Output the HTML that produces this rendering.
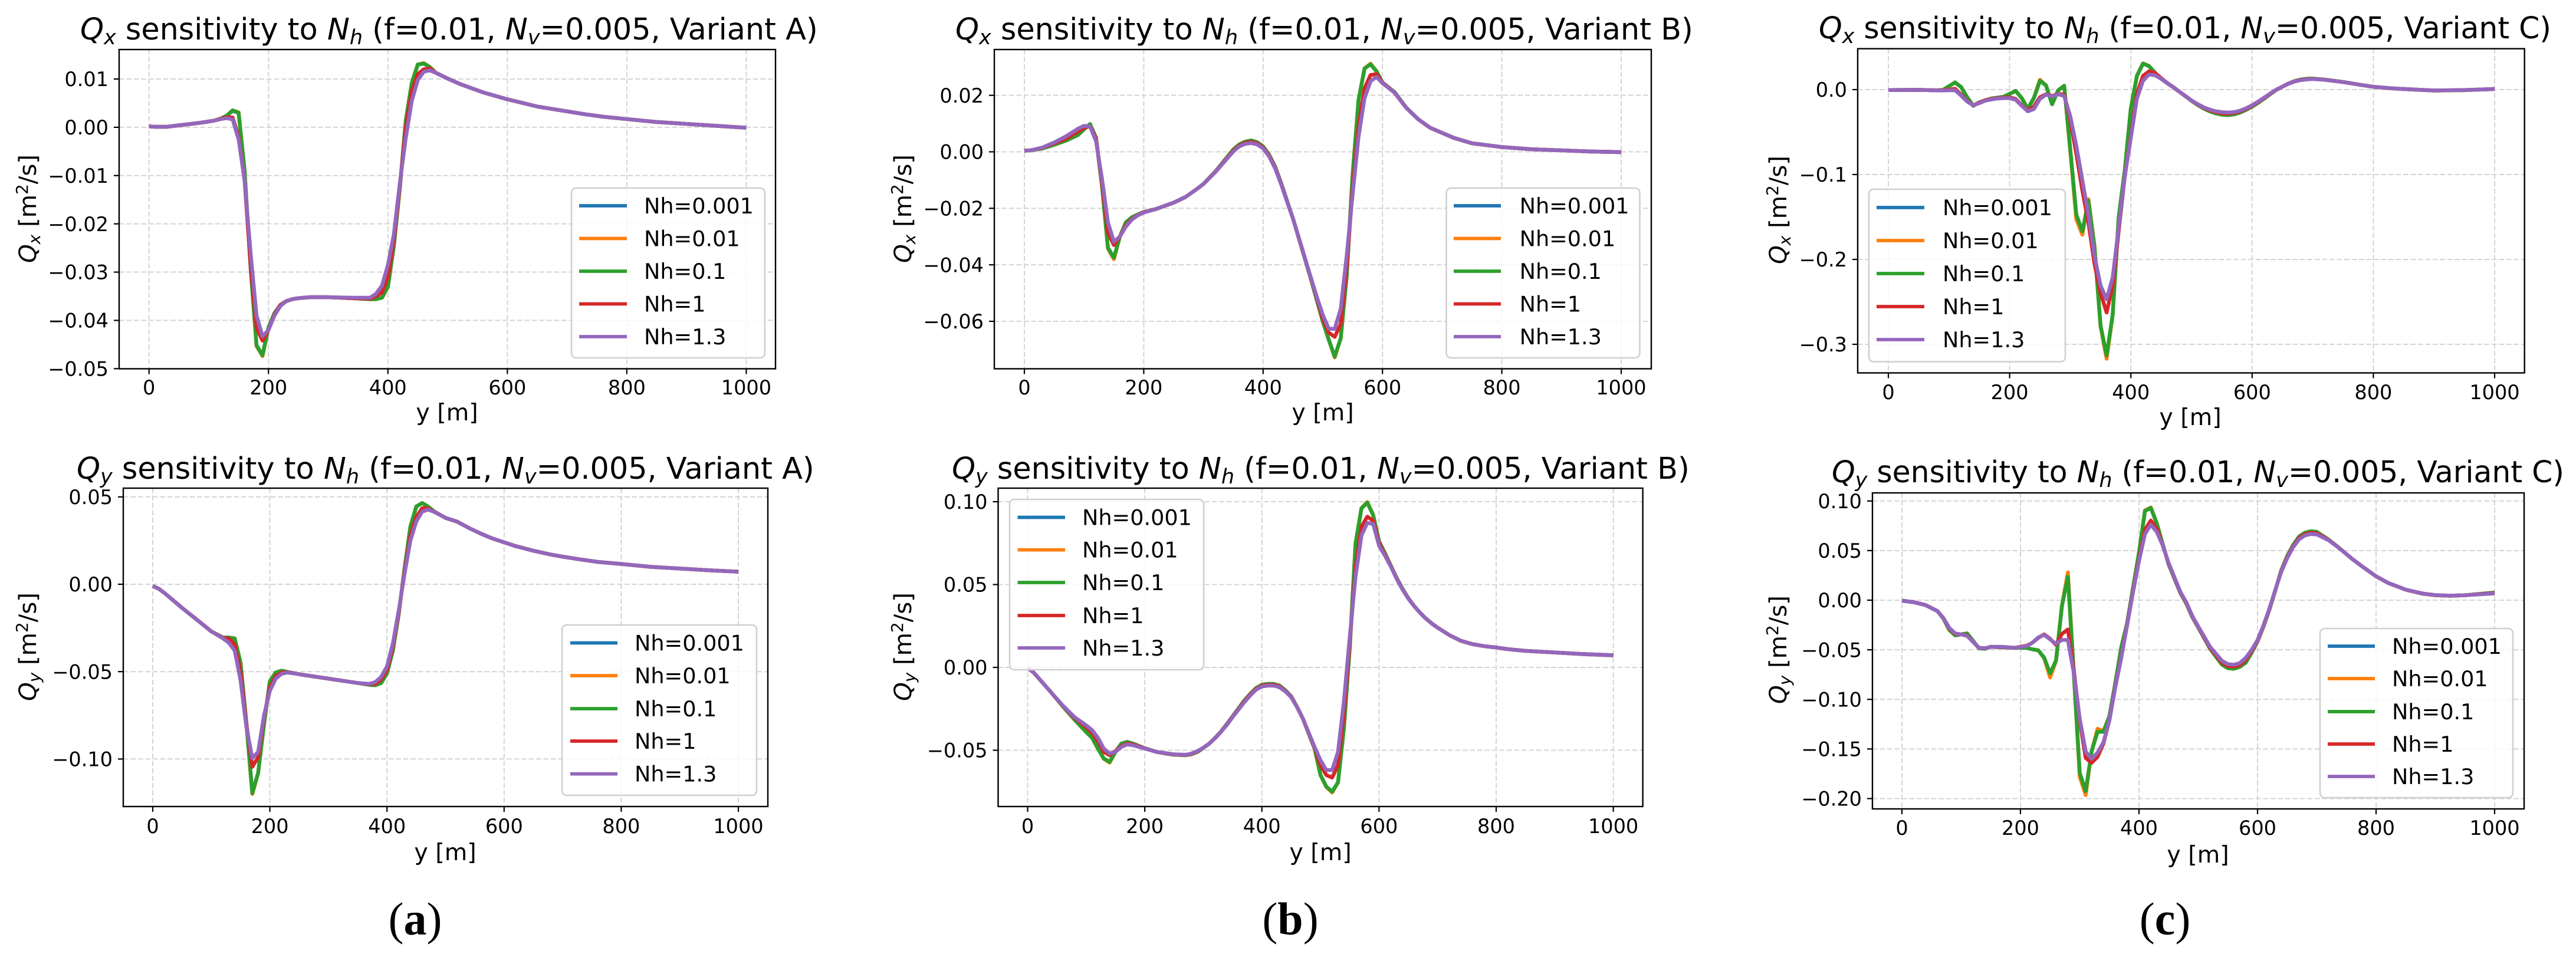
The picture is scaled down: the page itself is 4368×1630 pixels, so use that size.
<!DOCTYPE html>
<html lang="en">
<head>
<meta charset="utf-8">
<title>Sensitivity of Qx and Qy to Nh</title>
<style>
html,body{margin:0;padding:0;background:#fff;}
svg{display:block;font-family:"DejaVu Sans","Liberation Sans",sans-serif;}
.title{font-size:50.8px;fill:#000;}
.title.c{font-size:50.4px;}
.axlabel{font-size:39.5px;fill:#000;}
.ylab{font-size:40.5px;fill:#000;}
.legtext{font-size:36.6px;fill:#000;}
.legbox{fill:#fff;fill-opacity:.8;stroke:#d0d0d0;stroke-width:2.6;}
.cap{font-family:"Liberation Serif",serif;font-size:78px;fill:#000;text-anchor:middle;}
.i{font-style:italic;}
</style>
</head>
<body>
<svg xmlns="http://www.w3.org/2000/svg" width="4368" height="1630" viewBox="0 0 4368 1630">
<rect width="4368" height="1630" fill="#fff"/>

<!-- Panel A, Qx -->
<g>
<text class="title" x="136" y="67"><tspan class="i">Q</tspan><tspan class="i" font-size="35" dy="8">x</tspan><tspan dy="-8"> sensitivity to </tspan><tspan class="i">N</tspan><tspan class="i" font-size="35" dy="8">h</tspan><tspan dy="-8"> (f=0.01, </tspan><tspan class="i">N</tspan><tspan class="i" font-size="35" dy="8">v</tspan><tspan dy="-8">=0.005, Variant A)</tspan></text>
<g id="plot-a1"></g>
<text class="axlabel" x="758" y="713" text-anchor="middle">y [m]</text>
<text class="ylab" text-anchor="middle" textLength="184" transform="translate(61 354) rotate(-90)"><tspan class="i">Q</tspan><tspan class="i" font-size="28" dy="7">x</tspan><tspan dy="-7"> [m</tspan><tspan font-size="28" dy="-14">2</tspan><tspan dy="14">/s]</tspan></text>
<g>
<rect class="legbox" x="969" y="319" width="328" height="288" rx="8"/>
<g><line x1="982" x2="1063" y1="349" y2="349" stroke="#1f77b4" stroke-width="5.8"/><text class="legtext" x="1092" y="362">Nh=0.001</text></g>
<g><line x1="982" x2="1063" y1="404.5" y2="404.5" stroke="#ff7f0e" stroke-width="5.8"/><text class="legtext" x="1092" y="417.5">Nh=0.01</text></g>
<g><line x1="982" x2="1063" y1="460" y2="460" stroke="#2ca02c" stroke-width="5.8"/><text class="legtext" x="1092" y="473">Nh=0.1</text></g>
<g><line x1="982" x2="1063" y1="515.5" y2="515.5" stroke="#d62728" stroke-width="5.8"/><text class="legtext" x="1092" y="528.5">Nh=1</text></g>
<g><line x1="982" x2="1063" y1="571" y2="571" stroke="#9467bd" stroke-width="5.8"/><text class="legtext" x="1092" y="584">Nh=1.3</text></g>
</g>
</g>

<!-- Panel A, Qy -->
<g>
<text class="title" x="130" y="812"><tspan class="i">Q</tspan><tspan class="i" font-size="35" dy="8">y</tspan><tspan dy="-8"> sensitivity to </tspan><tspan class="i">N</tspan><tspan class="i" font-size="35" dy="8">h</tspan><tspan dy="-8"> (f=0.01, </tspan><tspan class="i">N</tspan><tspan class="i" font-size="35" dy="8">v</tspan><tspan dy="-8">=0.005, Variant A)</tspan></text>
<g id="plot-a2"></g>
<text class="axlabel" x="755" y="1459" text-anchor="middle">y [m]</text>
<text class="ylab" text-anchor="middle" textLength="184" transform="translate(61 1097) rotate(-90)"><tspan class="i">Q</tspan><tspan class="i" font-size="28" dy="7">y</tspan><tspan dy="-7"> [m</tspan><tspan font-size="28" dy="-14">2</tspan><tspan dy="14">/s]</tspan></text>
<g>
<rect class="legbox" x="953" y="1060" width="330" height="289" rx="8"/>
<g><line x1="967" x2="1047" y1="1090.5" y2="1090.5" stroke="#1f77b4" stroke-width="5.8"/><text class="legtext" x="1076" y="1103.5">Nh=0.001</text></g>
<g><line x1="967" x2="1047" y1="1146" y2="1146" stroke="#ff7f0e" stroke-width="5.8"/><text class="legtext" x="1076" y="1159">Nh=0.01</text></g>
<g><line x1="967" x2="1047" y1="1202" y2="1202" stroke="#2ca02c" stroke-width="5.8"/><text class="legtext" x="1076" y="1215">Nh=0.1</text></g>
<g><line x1="967" x2="1047" y1="1257" y2="1257" stroke="#d62728" stroke-width="5.8"/><text class="legtext" x="1076" y="1270">Nh=1</text></g>
<g><line x1="967" x2="1047" y1="1312.6" y2="1312.6" stroke="#9467bd" stroke-width="5.8"/><text class="legtext" x="1076" y="1325.6">Nh=1.3</text></g>
</g>
</g>

<!-- Panel B, Qx -->
<g>
<text class="title" x="1620" y="67"><tspan class="i">Q</tspan><tspan class="i" font-size="35" dy="8">x</tspan><tspan dy="-8"> sensitivity to </tspan><tspan class="i">N</tspan><tspan class="i" font-size="35" dy="8">h</tspan><tspan dy="-8"> (f=0.01, </tspan><tspan class="i">N</tspan><tspan class="i" font-size="35" dy="8">v</tspan><tspan dy="-8">=0.005, Variant B)</tspan></text>
<g id="plot-b1"></g>
<text class="axlabel" x="2243" y="713" text-anchor="middle">y [m]</text>
<text class="ylab" text-anchor="middle" textLength="184" transform="translate(1545 354) rotate(-90)"><tspan class="i">Q</tspan><tspan class="i" font-size="28" dy="7">x</tspan><tspan dy="-7"> [m</tspan><tspan font-size="28" dy="-14">2</tspan><tspan dy="14">/s]</tspan></text>
<g>
<rect class="legbox" x="2452.5" y="319" width="328" height="288" rx="8"/>
<g><line x1="2465" x2="2545" y1="349" y2="349" stroke="#1f77b4" stroke-width="5.8"/><text class="legtext" x="2576.6" y="362">Nh=0.001</text></g>
<g><line x1="2465" x2="2545" y1="404.5" y2="404.5" stroke="#ff7f0e" stroke-width="5.8"/><text class="legtext" x="2576.6" y="417.5">Nh=0.01</text></g>
<g><line x1="2465" x2="2545" y1="460" y2="460" stroke="#2ca02c" stroke-width="5.8"/><text class="legtext" x="2576.6" y="473">Nh=0.1</text></g>
<g><line x1="2465" x2="2545" y1="515.5" y2="515.5" stroke="#d62728" stroke-width="5.8"/><text class="legtext" x="2576.6" y="528.5">Nh=1</text></g>
<g><line x1="2465" x2="2545" y1="571" y2="571" stroke="#9467bd" stroke-width="5.8"/><text class="legtext" x="2576.6" y="584">Nh=1.3</text></g>
</g>
</g>

<!-- Panel B, Qy -->
<g>
<text class="title" x="1614" y="812"><tspan class="i">Q</tspan><tspan class="i" font-size="35" dy="8">y</tspan><tspan dy="-8"> sensitivity to </tspan><tspan class="i">N</tspan><tspan class="i" font-size="35" dy="8">h</tspan><tspan dy="-8"> (f=0.01, </tspan><tspan class="i">N</tspan><tspan class="i" font-size="35" dy="8">v</tspan><tspan dy="-8">=0.005, Variant B)</tspan></text>
<g id="plot-b2"></g>
<text class="axlabel" x="2239" y="1459" text-anchor="middle">y [m]</text>
<text class="ylab" text-anchor="middle" textLength="184" transform="translate(1545 1097) rotate(-90)"><tspan class="i">Q</tspan><tspan class="i" font-size="28" dy="7">y</tspan><tspan dy="-7"> [m</tspan><tspan font-size="28" dy="-14">2</tspan><tspan dy="14">/s]</tspan></text>
<g>
<rect class="legbox" x="1712" y="847" width="329" height="289" rx="8"/>
<g><line x1="1725.6" x2="1806" y1="877.5" y2="877.5" stroke="#1f77b4" stroke-width="5.8"/><text class="legtext" x="1835" y="890.5">Nh=0.001</text></g>
<g><line x1="1725.6" x2="1806" y1="932.6" y2="932.6" stroke="#ff7f0e" stroke-width="5.8"/><text class="legtext" x="1835" y="945.6">Nh=0.01</text></g>
<g><line x1="1725.6" x2="1806" y1="988" y2="988" stroke="#2ca02c" stroke-width="5.8"/><text class="legtext" x="1835" y="1001">Nh=0.1</text></g>
<g><line x1="1725.6" x2="1806" y1="1044" y2="1044" stroke="#d62728" stroke-width="5.8"/><text class="legtext" x="1835" y="1057">Nh=1</text></g>
<g><line x1="1725.6" x2="1806" y1="1099" y2="1099" stroke="#9467bd" stroke-width="5.8"/><text class="legtext" x="1835" y="1112">Nh=1.3</text></g>
</g>
</g>

<!-- Panel C, Qx -->
<g>
<text class="title c" x="3084" y="65"><tspan class="i">Q</tspan><tspan class="i" font-size="35" dy="8">x</tspan><tspan dy="-8"> sensitivity to </tspan><tspan class="i">N</tspan><tspan class="i" font-size="35" dy="8">h</tspan><tspan dy="-8"> (f=0.01, </tspan><tspan class="i">N</tspan><tspan class="i" font-size="35" dy="8">v</tspan><tspan dy="-8">=0.005, Variant C)</tspan></text>
<g id="plot-c1"></g>
<text class="axlabel" x="3714" y="721" text-anchor="middle">y [m]</text>
<text class="ylab" text-anchor="middle" textLength="184" transform="translate(3029 356) rotate(-90)"><tspan class="i">Q</tspan><tspan class="i" font-size="28" dy="7">x</tspan><tspan dy="-7"> [m</tspan><tspan font-size="28" dy="-14">2</tspan><tspan dy="14">/s]</tspan></text>
<g>
<rect class="legbox" x="3169" y="321" width="333" height="292.6" rx="8"/>
<g><line x1="3182" x2="3263" y1="352" y2="352" stroke="#1f77b4" stroke-width="5.8"/><text class="legtext" x="3294" y="365">Nh=0.001</text></g>
<g><line x1="3182" x2="3263" y1="408" y2="408" stroke="#ff7f0e" stroke-width="5.8"/><text class="legtext" x="3294" y="421">Nh=0.01</text></g>
<g><line x1="3182" x2="3263" y1="464" y2="464" stroke="#2ca02c" stroke-width="5.8"/><text class="legtext" x="3294" y="477">Nh=0.1</text></g>
<g><line x1="3182" x2="3263" y1="520" y2="520" stroke="#d62728" stroke-width="5.8"/><text class="legtext" x="3294" y="533">Nh=1</text></g>
<g><line x1="3182" x2="3263" y1="576" y2="576" stroke="#9467bd" stroke-width="5.8"/><text class="legtext" x="3294" y="589">Nh=1.3</text></g>
</g>
</g>

<!-- Panel C, Qy -->
<g>
<text class="title c" x="3106" y="818"><tspan class="i">Q</tspan><tspan class="i" font-size="35" dy="8">y</tspan><tspan dy="-8"> sensitivity to </tspan><tspan class="i">N</tspan><tspan class="i" font-size="35" dy="8">h</tspan><tspan dy="-8"> (f=0.01, </tspan><tspan class="i">N</tspan><tspan class="i" font-size="35" dy="8">v</tspan><tspan dy="-8">=0.005, Variant C)</tspan></text>
<g id="plot-c2"></g>
<text class="axlabel" x="3727" y="1463" text-anchor="middle">y [m]</text>
<text class="ylab" text-anchor="middle" textLength="184" transform="translate(3029 1102) rotate(-90)"><tspan class="i">Q</tspan><tspan class="i" font-size="28" dy="7">y</tspan><tspan dy="-7"> [m</tspan><tspan font-size="28" dy="-14">2</tspan><tspan dy="14">/s]</tspan></text>
<g>
<rect class="legbox" x="3934" y="1066" width="327" height="287" rx="8"/>
<g><line x1="3947" x2="4027" y1="1096" y2="1096" stroke="#1f77b4" stroke-width="5.8"/><text class="legtext" x="4056" y="1109">Nh=0.001</text></g>
<g><line x1="3947" x2="4027" y1="1151" y2="1151" stroke="#ff7f0e" stroke-width="5.8"/><text class="legtext" x="4056" y="1164">Nh=0.01</text></g>
<g><line x1="3947" x2="4027" y1="1207" y2="1207" stroke="#2ca02c" stroke-width="5.8"/><text class="legtext" x="4056" y="1220">Nh=0.1</text></g>
<g><line x1="3947" x2="4027" y1="1262" y2="1262" stroke="#d62728" stroke-width="5.8"/><text class="legtext" x="4056" y="1275">Nh=1</text></g>
<g><line x1="3947" x2="4027" y1="1317" y2="1317" stroke="#9467bd" stroke-width="5.8"/><text class="legtext" x="4056" y="1330">Nh=1.3</text></g>
</g>
</g>

<text class="cap" x="704" y="1585">(<tspan font-weight="bold">a</tspan>)</text>
<text class="cap" x="2188" y="1585">(<tspan font-weight="bold">b</tspan>)</text>
<text class="cap" x="3671" y="1585">(<tspan font-weight="bold">c</tspan>)</text>
</svg>

<script>
// ---- Shared axis data ----
const xTickValues = [0, 200, 400, 600, 800, 1000];
const xTickLabels = ["0", "200", "400", "600", "800", "1000"];
const seriesNames = ["Nh=0.001", "Nh=0.01", "Nh=0.1", "Nh=1", "Nh=1.3"];
const seriesColors = ["#1f77b4", "#ff7f0e", "#2ca02c", "#d62728", "#9467bd"];

// ---- Variant A, Qx ----
const a1Y = [0,10,30,50,70,90,110,120,130,140,150,160,170,180,190,200,210,220,230,240,250,270,300,340,370,380,390,400,410,420,430,440,450,460,470,480,490,500,520,540,560,580,600,620,650,680,700,730,760,800,850,900,950,1000];
const a1Nh0001 = [.0002,.0001,.0001,.0004,.0007,.0010,.0014,.0018,.0024,.0034,.0030,-.0090,-.0290,-.0452,-.0472,-.0415,-.0385,-.0368,-.0360,-.0356,-.0354,-.0352,-.0352,-.0354,-.0356,-.0356,-.0353,-.0330,-.0245,-.0125,.0015,.0092,.0130,.0132,.0125,.0113,.0107,.0101,.0090,.0081,.0072,.0065,.0058,.0052,.0043,.0037,.0033,.0027,.0022,.0017,.0011,.0007,.0003,-.0001];
const a1Nh001 = [.0002,.0001,.0001,.0004,.0007,.0010,.0014,.0018,.0024,.0035,.0031,-.0090,-.0290,-.0453,-.0474,-.0416,-.0385,-.0368,-.0360,-.0356,-.0354,-.0352,-.0352,-.0354,-.0356,-.0356,-.0353,-.0331,-.0245,-.0125,.0015,.0092,.0130,.0133,.0125,.0113,.0107,.0101,.0090,.0081,.0072,.0065,.0058,.0052,.0043,.0037,.0033,.0027,.0022,.0017,.0011,.0007,.0003,-.0001];
const a1Nh01 = [.0002,.0001,.0001,.0004,.0007,.0010,.0014,.0018,.0024,.0035,.0030,-.0090,-.0290,-.0452,-.0472,-.0415,-.0385,-.0368,-.0360,-.0356,-.0354,-.0352,-.0352,-.0354,-.0356,-.0356,-.0353,-.0330,-.0245,-.0125,.0015,.0092,.0130,.0132,.0125,.0113,.0107,.0101,.0090,.0081,.0072,.0065,.0058,.0052,.0043,.0037,.0033,.0027,.0022,.0017,.0011,.0007,.0003,-.0001];
const a1Nh1 = [.0002,.0001,.0001,.0004,.0007,.0010,.0014,.0018,.0021,.0020,-.0020,-.0110,-.0285,-.0415,-.0442,-.0420,-.0388,-.0368,-.0360,-.0356,-.0354,-.0352,-.0352,-.0354,-.0355,-.0350,-.0342,-.0310,-.0235,-.0120,.0000,.0075,.0110,.0120,.0122,.0113,.0107,.0101,.0090,.0081,.0072,.0065,.0058,.0052,.0043,.0037,.0033,.0027,.0022,.0017,.0011,.0007,.0003,-.0001];
const a1Nh13 = [.0002,.0001,.0001,.0004,.0007,.0010,.0014,.0017,.0019,.0016,-.0025,-.0110,-.0260,-.0390,-.0433,-.0420,-.0390,-.0370,-.0360,-.0356,-.0354,-.0352,-.0352,-.0353,-.0353,-.0345,-.0328,-.0285,-.0221,-.0115,-.0021,.0055,.0098,.0115,.0118,.0113,.0107,.0101,.0090,.0081,.0072,.0065,.0058,.0052,.0043,.0037,.0033,.0027,.0022,.0017,.0011,.0007,.0003,-.0001];
const a1YTicks = [0.01, 0, -0.01, -0.02, -0.03, -0.04, -0.05];
const a1YTickLabels = ["0.01", "0.00", "\u22120.01", "\u22120.02", "\u22120.03", "\u22120.04", "\u22120.05"];

// ---- Variant A, Qy ----
const a2Y = [0,10,20,50,80,100,120,130,140,150,160,170,180,190,200,210,220,230,250,300,350,370,380,390,400,410,420,430,440,450,460,470,480,490,500,520,540,560,580,600,620,650,680,700,730,760,800,850,900,950,1000];
const a2Nh0001 = [-.001,-.0025,-.005,-.0135,-.0215,-.0270,-.0305,-.0305,-.0310,-.0450,-.0800,-.1195,-.1080,-.0800,-.0555,-.0505,-.0495,-.0502,-.0515,-.0540,-.0565,-.0575,-.0578,-.0565,-.0510,-.0380,-.0170,.0090,.0330,.0445,.0465,.0445,.0418,.0398,.0380,.0358,.0322,.0290,.0262,.0240,.0218,.0192,.0170,.0158,.0142,.0128,.0116,.0100,.0090,.0080,.0072];
const a2Nh001 = [-.001,-.0025,-.005,-.0135,-.0215,-.0270,-.0305,-.0305,-.0310,-.0450,-.0800,-.1200,-.1082,-.0800,-.0555,-.0505,-.0495,-.0502,-.0515,-.0540,-.0565,-.0575,-.0578,-.0565,-.0510,-.0380,-.0170,.0090,.0330,.0445,.0465,.0445,.0418,.0398,.0380,.0358,.0322,.0290,.0262,.0240,.0218,.0192,.0170,.0158,.0142,.0128,.0116,.0100,.0090,.0080,.0072];
const a2Nh01 = [-.001,-.0025,-.005,-.0135,-.0215,-.0270,-.0305,-.0305,-.0310,-.0450,-.0800,-.1195,-.1080,-.0800,-.0555,-.0505,-.0495,-.0502,-.0515,-.0540,-.0565,-.0575,-.0578,-.0565,-.0510,-.0380,-.0170,.0090,.0330,.0445,.0465,.0445,.0418,.0398,.0380,.0358,.0322,.0290,.0262,.0240,.0218,.0192,.0170,.0158,.0142,.0128,.0116,.0100,.0090,.0080,.0072];
const a2Nh1 = [-.001,-.0025,-.005,-.0135,-.0215,-.0270,-.0308,-.0310,-.0345,-.0500,-.0800,-.1045,-.0990,-.0760,-.0590,-.0525,-.0505,-.0503,-.0515,-.0540,-.0565,-.0572,-.0570,-.0545,-.0490,-.0360,-.0160,.0075,.0280,.0385,.0435,.0435,.0416,.0398,.0380,.0358,.0322,.0290,.0262,.0240,.0218,.0192,.0170,.0158,.0142,.0128,.0116,.0100,.0090,.0080,.0072];
const a2Nh13 = [-.001,-.0025,-.005,-.0135,-.0215,-.0270,-.0310,-.0335,-.0380,-.0550,-.0820,-.0995,-.0960,-.0750,-.0610,-.0540,-.0512,-.0505,-.0515,-.0540,-.0565,-.0570,-.0560,-.0530,-.0470,-.0340,-.0150,.0060,.0250,.0360,.0415,.0428,.0415,.0398,.0380,.0358,.0322,.0290,.0262,.0240,.0218,.0192,.0170,.0158,.0142,.0128,.0116,.0100,.0090,.0080,.0072];
const a2YTicks = [0.05, 0, -0.05, -0.10];
const a2YTickLabels = ["0.05", "0.00", "\u22120.05", "\u22120.10"];

// ---- Variant B, Qx ----
const b1Y = [0,10,30,50,70,90,100,110,120,130,140,150,160,170,180,190,200,220,250,270,290,300,320,340,350,360,370,380,390,400,410,420,430,440,450,460,470,480,490,500,510,520,530,540,550,560,570,580,590,600,620,640,660,680,700,720,750,800,850,900,950,1000];
const b1Nh0001 = [.0004,.0005,.0012,.0025,.0040,.0060,.0080,.0098,.0050,-.0120,-.0340,-.0375,-.0300,-.0250,-.0232,-.0222,-.0213,-.0203,-.0180,-.0160,-.0130,-.0114,-.0070,-.0018,.0008,.0026,.0036,.0040,.0034,.0019,-.0010,-.0052,-.0110,-.0173,-.0236,-.0307,-.0378,-.0450,-.0525,-.0600,-.0665,-.0725,-.0660,-.0440,-.0080,.0185,.0295,.0310,.0285,.0245,.0212,.0156,.0115,.0085,.0067,.0049,.0030,.0017,.0009,.0005,.0001,-.0001];
const b1Nh001 = [.0004,.0005,.0012,.0025,.0040,.0060,.0080,.0098,.0050,-.0120,-.0342,-.0380,-.0300,-.0250,-.0232,-.0222,-.0213,-.0203,-.0180,-.0160,-.0130,-.0114,-.0070,-.0018,.0008,.0026,.0036,.0040,.0034,.0019,-.0010,-.0052,-.0110,-.0173,-.0236,-.0307,-.0378,-.0450,-.0525,-.0600,-.0665,-.0728,-.0660,-.0440,-.0080,.0185,.0295,.0312,.0285,.0245,.0212,.0156,.0115,.0085,.0067,.0049,.0030,.0017,.0009,.0005,.0001,-.0001];
const b1Nh01 = [.0004,.0005,.0012,.0025,.0040,.0060,.0080,.0098,.0050,-.0120,-.0340,-.0375,-.0300,-.0250,-.0232,-.0222,-.0213,-.0203,-.0180,-.0160,-.0130,-.0114,-.0070,-.0018,.0008,.0026,.0036,.0040,.0034,.0019,-.0010,-.0052,-.0110,-.0173,-.0236,-.0307,-.0378,-.0450,-.0525,-.0600,-.0665,-.0725,-.0660,-.0440,-.0080,.0185,.0295,.0310,.0285,.0245,.0212,.0156,.0115,.0085,.0067,.0049,.0030,.0017,.0009,.0005,.0001,-.0001];
const b1Nh1 = [.0004,.0005,.0014,.0030,.0047,.0072,.0086,.0090,.0048,-.0110,-.0285,-.0330,-.0300,-.0260,-.0238,-.0224,-.0214,-.0203,-.0180,-.0160,-.0130,-.0114,-.0071,-.0021,.0004,.0022,.0032,.0035,.0030,.0015,-.0013,-.0055,-.0112,-.0175,-.0236,-.0306,-.0376,-.0447,-.0518,-.0590,-.0640,-.0655,-.0610,-.0410,-.0130,.0090,.0225,.0272,.0275,.0245,.0210,.0155,.0115,.0085,.0067,.0049,.0030,.0017,.0009,.0005,.0001,-.0001];
const b1Nh13 = [.0004,.0005,.0015,.0033,.0055,.0082,.0092,.0090,.0038,-.0095,-.0250,-.0318,-.0300,-.0265,-.0240,-.0225,-.0215,-.0203,-.0180,-.0160,-.0130,-.0114,-.0072,-.0023,.0001,.0019,.0028,.0031,.0026,.0012,-.0016,-.0058,-.0114,-.0176,-.0236,-.0305,-.0375,-.0445,-.0514,-.0577,-.0626,-.0627,-.0556,-.0368,-.0150,.0055,.0190,.0250,.0265,.0243,.0210,.0155,.0115,.0085,.0067,.0049,.0030,.0017,.0009,.0005,.0001,-.0001];
const b1YTicks = [0.02, 0, -0.02, -0.04, -0.06];
const b1YTickLabels = ["0.02", "0.00", "\u22120.02", "\u22120.04", "\u22120.06"];

// ---- Variant B, Qy ----
const b2Y = [0,10,20,40,60,80,100,110,120,130,140,150,160,170,180,200,220,240,250,270,280,290,300,310,320,330,340,350,360,370,380,390,400,410,420,430,440,450,460,470,480,490,500,510,520,530,540,550,560,570,580,590,600,610,620,630,640,650,660,670,680,690,700,720,740,760,780,800,820,850,900,950,1000];
const b2Nh0001 = [-.0005,-.0030,-.0070,-.0150,-.0235,-.0315,-.0390,-.0425,-.0490,-.0550,-.0570,-.0510,-.0460,-.0450,-.0460,-.0488,-.0510,-.0522,-.0527,-.0530,-.0524,-.0510,-.0486,-.0460,-.0426,-.0388,-.0343,-.0295,-.0248,-.0200,-.0160,-.0125,-.0105,-.0100,-.0100,-.0110,-.0138,-.0175,-.0238,-.0310,-.0400,-.0490,-.0650,-.0720,-.0750,-.0694,-.0367,.0120,.0750,.0960,.0995,.0920,.0760,.0690,.0615,.0540,.0475,.0418,.0370,.0330,.0295,.0265,.0240,.0195,.0160,.0140,.0128,.0120,.0110,.0100,.0090,.0080,.0073];
const b2Nh001 = [-.0005,-.0030,-.0070,-.0150,-.0235,-.0315,-.0390,-.0425,-.0490,-.0552,-.0575,-.0510,-.0460,-.0450,-.0460,-.0488,-.0510,-.0522,-.0527,-.0530,-.0524,-.0510,-.0486,-.0460,-.0426,-.0388,-.0343,-.0295,-.0248,-.0200,-.0160,-.0125,-.0105,-.0100,-.0100,-.0110,-.0138,-.0175,-.0238,-.0310,-.0400,-.0490,-.0650,-.0722,-.0755,-.0694,-.0367,.0120,.0750,.0962,.0998,.0920,.0760,.0690,.0615,.0540,.0475,.0418,.0370,.0330,.0295,.0265,.0240,.0195,.0160,.0140,.0128,.0120,.0110,.0100,.0090,.0080,.0073];
const b2Nh01 = [-.0005,-.0030,-.0070,-.0150,-.0235,-.0315,-.0390,-.0425,-.0490,-.0550,-.0570,-.0510,-.0460,-.0450,-.0460,-.0488,-.0510,-.0522,-.0527,-.0530,-.0524,-.0510,-.0486,-.0460,-.0426,-.0388,-.0343,-.0295,-.0248,-.0200,-.0160,-.0125,-.0105,-.0100,-.0100,-.0110,-.0138,-.0175,-.0238,-.0310,-.0400,-.0490,-.0650,-.0720,-.0750,-.0694,-.0367,.0120,.0750,.0960,.0995,.0920,.0760,.0690,.0615,.0540,.0475,.0418,.0370,.0330,.0295,.0265,.0240,.0195,.0160,.0140,.0128,.0120,.0110,.0100,.0090,.0080,.0073];
const b2Nh1 = [-.0005,-.0030,-.0070,-.0150,-.0232,-.0305,-.0360,-.0395,-.0445,-.0510,-.0530,-.0505,-.0475,-.0460,-.0465,-.0489,-.0510,-.0521,-.0526,-.0528,-.0522,-.0507,-.0485,-.0460,-.0427,-.0389,-.0346,-.0298,-.0252,-.0205,-.0165,-.0130,-.0110,-.0105,-.0105,-.0115,-.0142,-.0178,-.0239,-.0310,-.0397,-.0485,-.0590,-.0650,-.0665,-.0590,-.0280,.0150,.0600,.0850,.0910,.0885,.0750,.0682,.0612,.0537,.0472,.0416,.0370,.0330,.0295,.0265,.0240,.0195,.0160,.0140,.0128,.0120,.0110,.0100,.0090,.0080,.0073];
const b2Nh13 = [-.0005,-.0030,-.0070,-.0150,-.0230,-.0300,-.0350,-.0378,-.0425,-.0490,-.0520,-.0510,-.0480,-.0465,-.0470,-.0490,-.0510,-.0520,-.0525,-.0527,-.0520,-.0505,-.0485,-.0460,-.0428,-.0390,-.0348,-.0300,-.0255,-.0210,-.0170,-.0135,-.0115,-.0110,-.0110,-.0120,-.0145,-.0180,-.0240,-.0310,-.0395,-.0480,-.0560,-.0620,-.0620,-.0510,-.0204,.0184,.0550,.0796,.0873,.0865,.0735,.0675,.0610,.0535,.0470,.0415,.0370,.0330,.0295,.0265,.0240,.0195,.0160,.0140,.0128,.0120,.0110,.0100,.0090,.0080,.0073];
const b2YTicks = [0.10, 0.05, 0, -0.05];
const b2YTickLabels = ["0.10", "0.05", "0.00", "\u22120.05"];

// ---- Variant C, Qx ----
const c1Y = [0,50,80,90,100,110,120,130,140,150,160,170,180,190,200,210,220,230,240,250,260,270,280,290,300,310,320,330,340,350,360,370,380,390,400,410,420,430,440,450,460,470,480,490,500,510,520,530,540,550,560,570,580,590,600,610,620,630,640,650,660,670,680,690,700,720,750,780,800,830,850,900,950,1000];
const c1Nh0001 = [-.0005,-.0003,-.0008,-.0005,.0040,.0085,.0030,-.0090,-.0190,-.0150,-.0125,-.0105,-.0095,-.0085,-.0050,-.0015,-.0100,-.0225,-.0100,.0105,.0050,-.0172,-.0010,.0045,-.0700,-.1480,-.1690,-.1300,-.1850,-.2780,-.3140,-.2650,-.1500,-.0950,-.0220,.0162,.0307,.0277,.0197,.0127,.0076,.0028,-.0025,-.0078,-.0132,-.0180,-.0222,-.0255,-.0280,-.0295,-.0300,-.0292,-.0270,-.0238,-.0200,-.0155,-.0105,-.0052,-.0003,.0035,.0072,.0100,.0118,.0128,.0130,.0118,.0090,.0055,.0033,.0015,.0007,-.0011,-.0006,.0007];
const c1Nh001 = [-.0005,-.0003,-.0008,-.0005,.0040,.0085,.0030,-.0090,-.0190,-.0150,-.0125,-.0105,-.0095,-.0085,-.0050,-.0015,-.0100,-.0225,-.0100,.0115,.0050,-.0172,-.0010,.0045,-.0720,-.1530,-.1710,-.1290,-.1840,-.2790,-.3170,-.2660,-.1500,-.0950,-.0220,.0165,.0310,.0277,.0197,.0127,.0076,.0028,-.0025,-.0078,-.0132,-.0180,-.0222,-.0255,-.0280,-.0295,-.0300,-.0292,-.0270,-.0238,-.0200,-.0155,-.0105,-.0052,-.0003,.0035,.0072,.0100,.0118,.0128,.0130,.0118,.0090,.0055,.0033,.0015,.0007,-.0011,-.0006,.0007];
const c1Nh01 = [-.0005,-.0003,-.0008,-.0005,.0040,.0085,.0030,-.0090,-.0190,-.0150,-.0125,-.0105,-.0095,-.0085,-.0050,-.0015,-.0100,-.0225,-.0100,.0105,.0050,-.0172,-.0010,.0045,-.0700,-.1470,-.1670,-.1310,-.1850,-.2780,-.3130,-.2650,-.1500,-.0950,-.0220,.0162,.0307,.0277,.0197,.0127,.0076,.0028,-.0025,-.0078,-.0132,-.0180,-.0222,-.0255,-.0280,-.0295,-.0300,-.0292,-.0270,-.0238,-.0200,-.0155,-.0105,-.0052,-.0003,.0035,.0072,.0100,.0118,.0128,.0130,.0118,.0090,.0055,.0033,.0015,.0007,-.0011,-.0006,.0007];
const c1Nh1 = [-.0005,-.0003,-.0008,-.0005,.0000,.0010,-.0060,-.0135,-.0185,-.0155,-.0125,-.0110,-.0100,-.0095,-.0090,-.0110,-.0185,-.0240,-.0200,-.0090,-.0055,-.0075,-.0050,-.0060,-.0360,-.0755,-.1190,-.1565,-.2050,-.2400,-.2625,-.2310,-.1665,-.1023,-.0540,-.0050,.0162,.0215,.0197,.0135,.0078,.0030,-.0024,-.0076,-.0129,-.0174,-.0213,-.0243,-.0265,-.0278,-.0283,-.0276,-.0257,-.0228,-.0190,-.0146,-.0098,-.0048,-.0001,.0035,.0070,.0097,.0114,.0123,.0127,.0116,.0089,.0055,.0033,.0015,.0007,-.0010,-.0005,.0007];
const c1Nh13 = [-.0005,-.0003,-.0010,-.0010,-.0008,-.0008,-.0070,-.0140,-.0185,-.0160,-.0130,-.0115,-.0105,-.0100,-.0100,-.0120,-.0190,-.0255,-.0230,-.0110,-.0060,-.0080,-.0055,-.0075,-.0312,-.0660,-.1070,-.1472,-.1960,-.2306,-.2470,-.2210,-.1620,-.1023,-.0565,-.0104,.0104,.0178,.0169,.0127,.0076,.0030,-.0023,-.0075,-.0127,-.0170,-.0208,-.0235,-.0255,-.0265,-.0271,-.0265,-.0248,-.0220,-.0185,-.0140,-.0093,-.0045,.0000,.0035,.0069,.0095,.0112,.0120,.0125,.0115,.0089,.0055,.0033,.0015,.0007,-.0010,-.0005,.0007];
const c1YTicks = [0, -0.1, -0.2, -0.3];
const c1YTickLabels = ["0.0", "\u22120.1", "\u22120.2", "\u22120.3"];

// ---- Variant C, Qy ----
const c2Y = [0,20,40,60,70,80,90,100,110,120,130,140,150,170,190,210,220,230,240,250,260,270,280,290,300,310,320,330,340,350,360,370,380,390,400,410,420,430,440,450,460,470,480,490,500,520,540,550,560,570,580,590,600,610,620,630,640,650,660,670,680,690,700,720,740,760,780,800,820,850,880,900,925,950,1000];
const c2Nh0001 = [-.0005,-.0020,-.0050,-.0110,-.0185,-.0300,-.0355,-.0345,-.0335,-.0410,-.0485,-.0490,-.0470,-.0475,-.0480,-.0480,-.0495,-.0505,-.0580,-.0750,-.0608,-.0060,.0250,-.0730,-.1750,-.1940,-.1526,-.1310,-.1325,-.1170,-.0836,-.0480,-.0230,.0125,.0480,.0900,.0931,.0774,.0565,.0360,.0215,.0070,-.0035,-.0170,-.0275,-.0490,-.0650,-.0685,-.0691,-.0672,-.0630,-.0530,-.0415,-.0265,-.0095,.0100,.0300,.0445,.0555,.0640,.0680,.0695,.0688,.0610,.0515,.0414,.0325,.0241,.0175,.0106,.0064,.0050,.0044,.0050,.0076];
const c2Nh001 = [-.0005,-.0020,-.0050,-.0110,-.0185,-.0300,-.0355,-.0345,-.0335,-.0410,-.0485,-.0490,-.0470,-.0475,-.0480,-.0480,-.0495,-.0505,-.0585,-.0780,-.0612,-.0055,.0280,-.0730,-.1780,-.1965,-.1526,-.1296,-.1320,-.1170,-.0836,-.0480,-.0230,.0125,.0480,.0905,.0935,.0774,.0565,.0360,.0215,.0070,-.0035,-.0170,-.0275,-.0490,-.0650,-.0685,-.0691,-.0672,-.0630,-.0530,-.0415,-.0265,-.0095,.0100,.0300,.0445,.0555,.0640,.0680,.0695,.0688,.0610,.0515,.0414,.0325,.0241,.0175,.0106,.0064,.0050,.0044,.0050,.0076];
const c2Nh01 = [-.0005,-.0020,-.0050,-.0110,-.0185,-.0300,-.0355,-.0345,-.0335,-.0410,-.0485,-.0490,-.0470,-.0475,-.0480,-.0480,-.0495,-.0505,-.0580,-.0738,-.0608,-.0060,.0235,-.0730,-.1740,-.1925,-.1526,-.1327,-.1327,-.1170,-.0836,-.0480,-.0230,.0125,.0480,.0900,.0931,.0774,.0565,.0360,.0215,.0070,-.0035,-.0170,-.0275,-.0490,-.0650,-.0685,-.0691,-.0672,-.0630,-.0530,-.0415,-.0265,-.0095,.0100,.0300,.0445,.0555,.0640,.0680,.0695,.0688,.0610,.0515,.0414,.0325,.0241,.0175,.0106,.0064,.0050,.0044,.0050,.0076];
const c2Nh1 = [-.0005,-.0020,-.0050,-.0110,-.0180,-.0285,-.0340,-.0345,-.0355,-.0420,-.0480,-.0485,-.0470,-.0472,-.0480,-.0460,-.0430,-.0380,-.0345,-.0390,-.0450,-.0340,-.0295,-.0700,-.1215,-.1590,-.1640,-.1580,-.1445,-.1210,-.0870,-.0575,-.0245,.0090,.0410,.0710,.0803,.0720,.0552,.0370,.0224,.0078,-.0028,-.0164,-.0270,-.0480,-.0630,-.0665,-.0668,-.0655,-.0600,-.0515,-.0408,-.0260,-.0088,.0105,.0290,.0432,.0543,.0625,.0665,.0680,.0675,.0607,.0515,.0414,.0325,.0241,.0175,.0106,.0065,.0051,.0045,.0050,.0072];
const c2Nh13 = [-.0005,-.0020,-.0050,-.0110,-.0180,-.0280,-.0335,-.0345,-.0360,-.0420,-.0480,-.0485,-.0470,-.0470,-.0480,-.0465,-.0430,-.0375,-.0350,-.0395,-.0440,-.0400,-.0401,-.0732,-.1192,-.1526,-.1600,-.1537,-.1433,-.1213,-.0878,-.0586,-.0252,.0082,.0395,.0667,.0761,.0688,.0552,.0374,.0228,.0082,-.0023,-.0159,-.0265,-.0470,-.0611,-.0645,-.0651,-.0635,-.0582,-.0502,-.0402,-.0253,-.0084,.0106,.0285,.0424,.0534,.0613,.0653,.0667,.0663,.0604,.0514,.0414,.0325,.0241,.0175,.0106,.0066,.0052,.0046,.0050,.0068];
const c2YTicks = [0.10, 0.05, 0, -0.05, -0.10, -0.15, -0.20];
const c2YTickLabels = ["0.10", "0.05", "0.00", "\u22120.05", "\u22120.10", "\u22120.15", "\u22120.20"];

// ---- Drawing ----
const SVGNS = "http://www.w3.org/2000/svg";
const TICK_FONT = 33.5;
const TICK_LEN = 9;

function make(tag, attrs, parent) {
  const el = document.createElementNS(SVGNS, tag);
  for (const k in attrs) el.setAttribute(k, attrs[k]);
  parent.appendChild(el);
  return el;
}

function drawPanel(p) {
  const root = document.getElementById(p.id);
  const xScale = function (v) { return p.x0 + (p.x1000 - p.x0) * v / 1000; };
  const yScale = function (v) { return p.pxA + (p.pxB - p.pxA) * (v - p.valA) / (p.valB - p.valA); };

  // grid + tick marks + tick labels
  xTickValues.forEach(function (v, i) {
    const x = xScale(v);
    const grid = make("line", { x1: x, x2: x, y1: p.top, y2: p.bottom, stroke: "#d4d4d4", "stroke-width": 2, "stroke-dasharray": "8.5 4" }, root);
    
    
    const tick = make("line", { x1: x, x2: x, y1: p.bottom, y2: p.bottom + TICK_LEN, stroke: "#000", "stroke-width": 2.2 }, root);
    
    
    const label = make("text", { x: x, y: p.xTickBase, "text-anchor": "middle", "font-size": TICK_FONT, fill: "#000" }, root);
    label.textContent = xTickLabels[i];
    
    
  });
  p.yTicks.forEach(function (v, i) {
    const y = yScale(v);
    const grid = make("line", { x1: p.left, x2: p.right, y1: y, y2: y, stroke: "#d4d4d4", "stroke-width": 2, "stroke-dasharray": "8.5 4" }, root);
    
    
    const tick = make("line", { x1: p.left - TICK_LEN, x2: p.left, y1: y, y2: y, stroke: "#000", "stroke-width": 2.2 }, root);
    
    
    const label = make("text", { x: p.left - 18, y: y + 12.2, "text-anchor": "end", "font-size": TICK_FONT, fill: "#000" }, root);
    label.textContent = p.yTickLabels[i];
    
    
  });

  // series
  p.series.forEach(function (values, s) {
    let d = "";
    values.forEach(function (v, i) {
      d += (i ? "L" : "M") + xScale(p.ys[i]).toFixed(1) + " " + yScale(v).toFixed(1);
    });
    const line = make("path", { d: d, fill: "none", stroke: seriesColors[s], "stroke-width": 6.4, "stroke-linejoin": "round", "stroke-linecap": "butt" }, root);
    
    line.setAttribute('data-series', seriesNames[s]);
    
  });

  // frame
  const frame = make("rect", { x: p.left, y: p.top, width: p.right - p.left, height: p.bottom - p.top, fill: "none", stroke: "#000", "stroke-width": 2.4 }, root);
  
  
}

const panels = [
  { id: "plot-a1", left: 202, right: 1315, top: 84, bottom: 625.5, x0: 252.7, x1000: 1265.4, valA: 0, pxA: 215.9, valB: -0.05, pxB: 625.3, xTickBase: 669, ys: a1Y, series: [a1Nh0001, a1Nh001, a1Nh01, a1Nh1, a1Nh13], yTicks: a1YTicks, yTickLabels: a1YTickLabels },
  { id: "plot-a2", left: 209, right: 1302, top: 828, bottom: 1368, x0: 259, x1000: 1252, valA: 0, pxA: 991, valB: -0.10, pxB: 1287.4, xTickBase: 1413, ys: a2Y, series: [a2Nh0001, a2Nh001, a2Nh01, a2Nh1, a2Nh13], yTicks: a2YTicks, yTickLabels: a2YTickLabels },
  { id: "plot-b1", left: 1686, right: 2800, top: 84, bottom: 625.5, x0: 1737, x1000: 2749, valA: 0, pxA: 257.5, valB: -0.06, pxB: 545, xTickBase: 669, ys: b1Y, series: [b1Nh0001, b1Nh001, b1Nh01, b1Nh1, b1Nh13], yTicks: b1YTicks, yTickLabels: b1YTickLabels },
  { id: "plot-b2", left: 1692.5, right: 2785.6, top: 828, bottom: 1368, x0: 1742.5, x1000: 2735.6, valA: 0, pxA: 1132, valB: 0.10, pxB: 851, xTickBase: 1413, ys: b2Y, series: [b2Nh0001, b2Nh001, b2Nh01, b2Nh1, b2Nh13], yTicks: b2YTicks, yTickLabels: b2YTickLabels },
  { id: "plot-c1", left: 3150, right: 4280.7, top: 82.6, bottom: 632.5, x0: 3202, x1000: 4230, valA: 0, pxA: 152, valB: -0.3, pxB: 584, xTickBase: 677, ys: c1Y, series: [c1Nh0001, c1Nh001, c1Nh01, c1Nh1, c1Nh13], yTicks: c1YTicks, yTickLabels: c1YTickLabels },
  { id: "plot-c2", left: 3175, right: 4280, top: 836, bottom: 1372, x0: 3225, x1000: 4230, valA: 0, pxA: 1018, valB: -0.20, pxB: 1354.5, xTickBase: 1416, ys: c2Y, series: [c2Nh0001, c2Nh001, c2Nh01, c2Nh1, c2Nh13], yTicks: c2YTicks, yTickLabels: c2YTickLabels }
];
panels.forEach(drawPanel);
</script>
</body>
</html>
